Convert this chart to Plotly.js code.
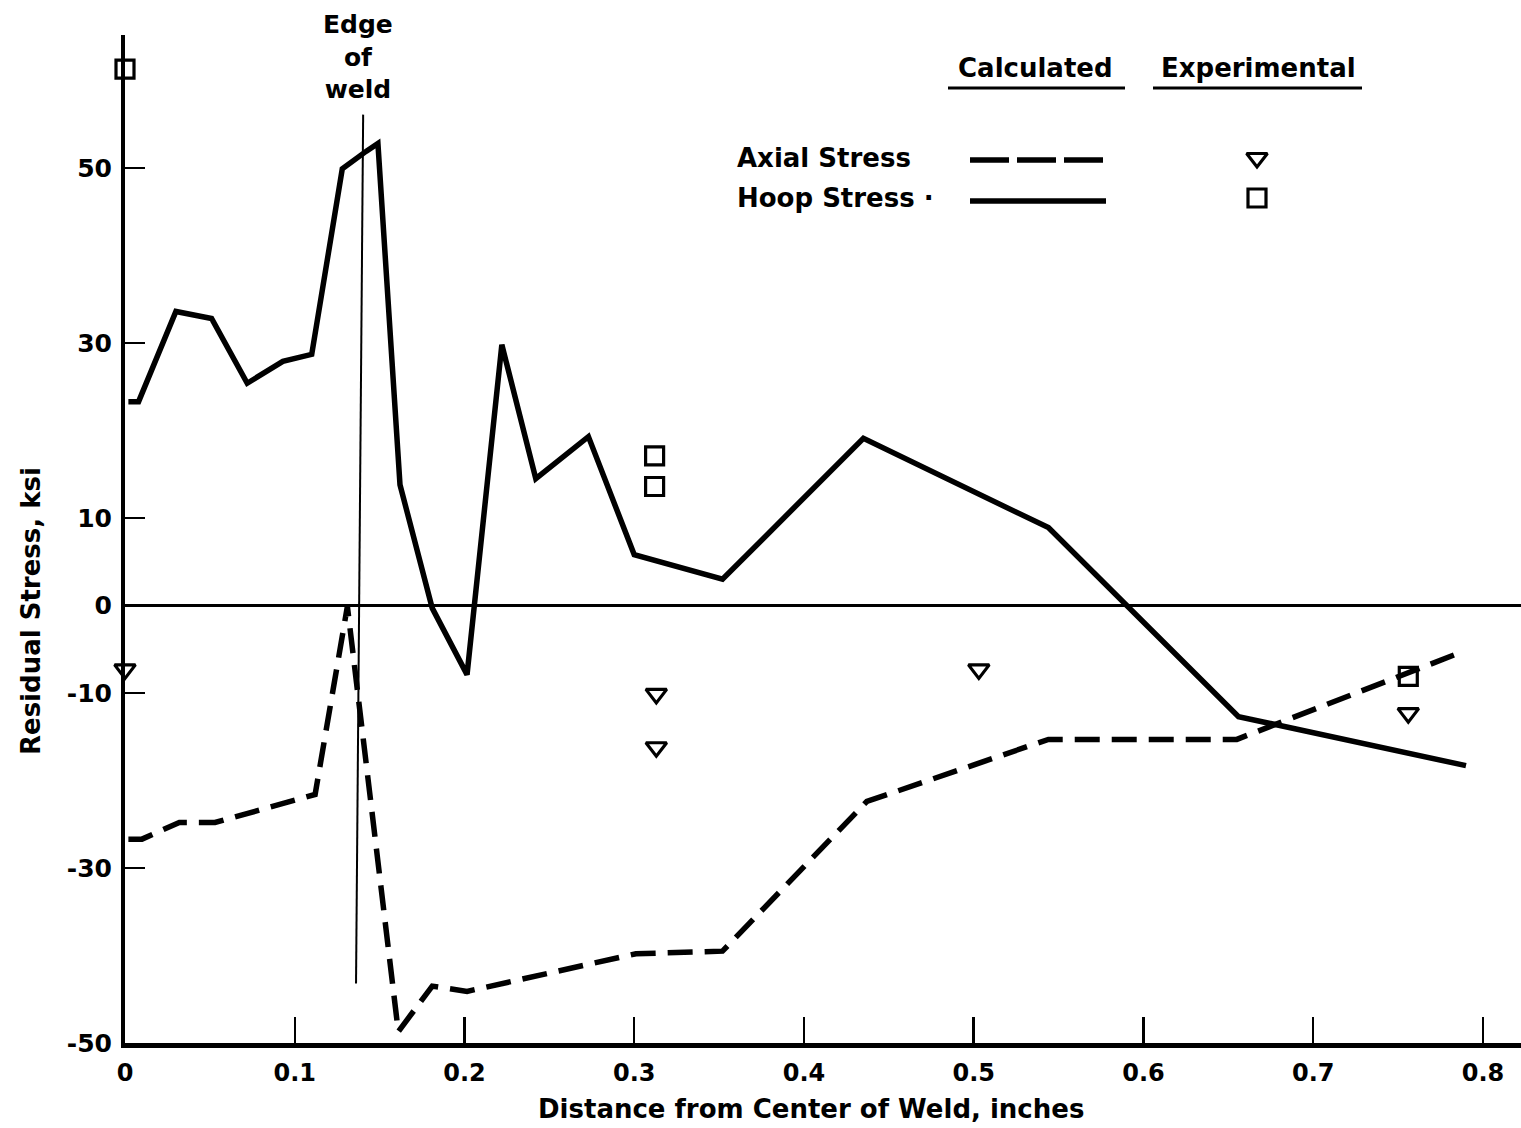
<!DOCTYPE html>
<html>
<head>
<meta charset="utf-8">
<script src="https://cdn.plot.ly/plotly-3.0.1.min.js"></script>
<style>html,body{margin:0;padding:0;background:#fff;}#chart{width:1521px;height:1128px;}</style>
</head>
<body>
<div id="chart"></div>
<script>
// Calculated hoop stress (solid line)
const hoopX = [0.002, 0.008, 0.030, 0.051, 0.072, 0.093, 0.110, 0.128, 0.142, 0.149, 0.162, 0.181, 0.2015, 0.222, 0.242, 0.273, 0.300, 0.352, 0.435, 0.544, 0.656, 0.790];
const hoopY = [23.3, 23.3, 33.6, 32.8, 25.4, 27.9, 28.7, 49.9, 51.9, 52.8, 13.8, -0.3, -7.9, 29.8, 14.5, 19.3, 5.8, 3.0, 19.1, 8.9, -12.7, -18.3];
// Calculated axial stress (dashed line)
const axialX = [0.002, 0.010, 0.032, 0.053, 0.112, 0.131, 0.161, 0.181, 0.2015, 0.301, 0.352, 0.437, 0.544, 0.655, 0.785];
const axialY = [-26.7, -26.7, -24.8, -24.8, -21.6, -0.1, -48.7, -43.5, -44.1, -39.8, -39.5, -22.4, -15.3, -15.3, -5.5];
// Experimental hoop (squares) and axial (triangles)
const expHoopX = [0.000, 0.312, 0.312, 0.756];
const expHoopY = [61.3, 17.1, 13.6, -8.1];
const expAxialX = [0.000, 0.313, 0.313, 0.503, 0.756];
const expAxialY = [-7.3, -10.1, -16.2, -7.3, -12.3];
// Edge of weld marker line
const edgeX = [0.1403, 0.1361];
const edgeY = [56.1, -43.2];
// Axis ticks
const yTickVals = [50, 30, 10, 0, -10, -30, -50];
const yTickText = ['50', '30', '10', '0', '-10', '-30', '-50'];
const xTickVals = [0, 0.1, 0.2, 0.3, 0.4, 0.5, 0.6, 0.7, 0.8];
const xTickText = ['0', '0.1', '0.2', '0.3', '0.4', '0.5', '0.6', '0.7', '0.8'];

const FONT = 'DejaVu Sans, sans-serif';
const bold = (size) => ({family: FONT, size: size, color: '#000', weight: 'bold'});
const sqMarker = {symbol: 'square-open', size: 18, color: '#000', line: {width: 3.2, color: '#000'}};
const triMarker = {symbol: 'triangle-down-open', size: 18, color: '#000', line: {width: 3.2, color: '#000'}};

const traces = [
  {x: edgeX, y: edgeY, mode: 'lines', line: {color: '#000', width: 2}, hoverinfo: 'skip'},
  {x: hoopX, y: hoopY, mode: 'lines', line: {color: '#000', width: 5.5}, name: 'Hoop Stress'},
  {x: axialX, y: axialY, mode: 'lines', line: {color: '#000', width: 5.5, dash: '25px,12px'}, name: 'Axial Stress'},
  {x: expHoopX, y: expHoopY, mode: 'markers', cliponaxis: false, marker: sqMarker},
  {x: expAxialX, y: expAxialY, mode: 'markers', cliponaxis: false, marker: triMarker},
  // legend samples drawn on pixel-space overlay axes
  {x: [1257], y: [158], xaxis: 'x2', yaxis: 'y2', mode: 'markers', cliponaxis: false, marker: triMarker},
  {x: [1257], y: [198], xaxis: 'x2', yaxis: 'y2', mode: 'markers', cliponaxis: false, marker: sqMarker},
  {x: [970, 1106], y: [160, 160], xaxis: 'x2', yaxis: 'y2', mode: 'lines', cliponaxis: false,
   line: {color: '#000', width: 5.5, dash: '39px,8px'}},
  {x: [970, 1106], y: [201, 201], xaxis: 'x2', yaxis: 'y2', mode: 'lines', cliponaxis: false,
   line: {color: '#000', width: 5.5}}
];

const ann = (text, x, y, opts) => Object.assign({text: text, x: x, y: y, xref: 'x2', yref: 'y2', showarrow: false,
  font: bold(26)}, opts || {});

const layout = {
  width: 1521, height: 1128,
  margin: {l: 125, r: 0, t: 35, b: 85},
  paper_bgcolor: '#fff', plot_bgcolor: '#fff',
  showlegend: false,
  font: {family: FONT, color: '#000'},
  xaxis: {
    range: [0, 0.8224], showgrid: false, zeroline: false,
    showline: true, linecolor: '#000', linewidth: 5,
    ticks: 'inside', ticklen: 26, tickwidth: 2.5, tickcolor: '#000',
    tickvals: xTickVals, ticktext: xTickText, ticklabelstandoff: 4,
    tickfont: bold(24)
  },
  yaxis: {
    range: [-50, 65.2], showgrid: false,
    zeroline: true, zerolinecolor: '#000', zerolinewidth: 3,
    showline: true, linecolor: '#000', linewidth: 4,
    ticks: 'inside', ticklen: 20, tickwidth: 2.5, tickcolor: '#000',
    tickvals: yTickVals, ticktext: yTickText, ticklabelstandoff: 4,
    tickfont: bold(25)
  },
  xaxis2: {overlaying: 'x', range: [125, 1521], visible: false, fixedrange: true},
  yaxis2: {overlaying: 'y', range: [1043, 35], visible: false, fixedrange: true},
  annotations: [
    ann('Edge<br>of<br>weld', 358, 57, {font: bold(25)}),
    ann('Calculated', 1035, 68),
    ann('Experimental', 1258, 68),
    ann('Axial Stress', 735, 158, {xanchor: 'left'}),
    ann('Hoop Stress ·', 735, 198, {xanchor: 'left'}),
    {text: 'Distance from Center of Weld, inches', xref: 'paper', yref: 'paper', x: 0.4914, y: -0.0655,
     xanchor: 'center', yanchor: 'middle', showarrow: false, font: bold(26)},
    {text: 'Residual Stress, ksi', xref: 'paper', yref: 'paper', x: -0.0673, y: 0.4286,
     xanchor: 'center', yanchor: 'middle', showarrow: false, textangle: -90, font: bold(26)}
  ],
  shapes: [
    {type: 'line', xref: 'x2', yref: 'y2', x0: 948, x1: 1125, y0: 88, y1: 88, line: {color: '#000', width: 3}},
    {type: 'line', xref: 'x2', yref: 'y2', x0: 1153, x1: 1362, y0: 88, y1: 88, line: {color: '#000', width: 3}}
  ]
};

Plotly.newPlot('chart', traces, layout, {staticPlot: true});
</script>
</body>
</html>
